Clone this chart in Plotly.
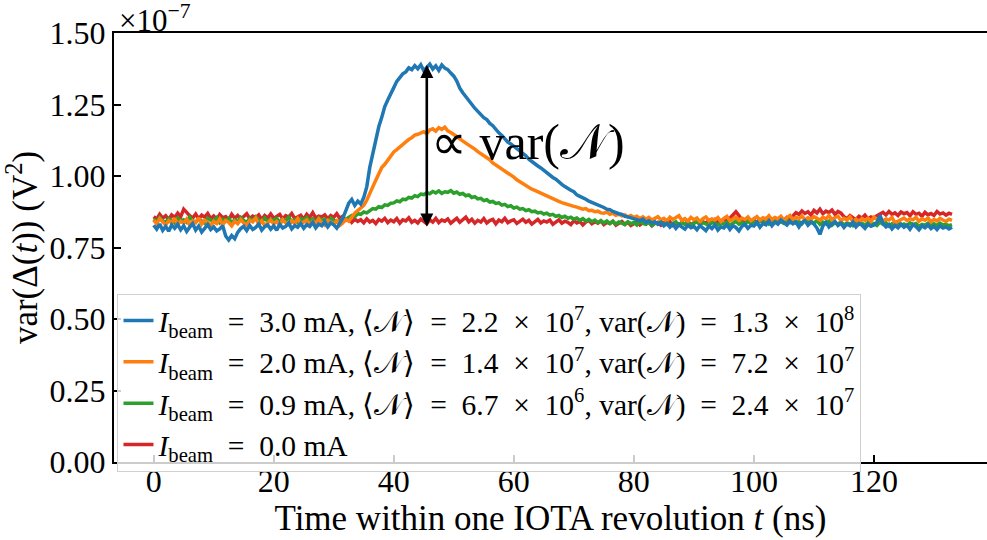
import plotly.graph_objects as go

# time axis (ns), one sample every 0.5 ns from 0 to 133 ns
time_ns = [i / 2 for i in range(267)]

# var(Delta(t)) in units of 1e-7 V^2
blue_3p0mA = [
    0.828, 0.814, 0.832, 0.810, 0.824, 0.807, 0.829, 0.817, 0.831, 0.812,
    0.826, 0.806, 0.821, 0.833, 0.811, 0.825, 0.804, 0.819, 0.830, 0.813,
    0.822, 0.808, 0.815, 0.826, 0.790, 0.776, 0.792, 0.781, 0.803, 0.816,
    0.824, 0.809, 0.827, 0.813, 0.820, 0.832, 0.811, 0.823, 0.829, 0.814,
    0.826, 0.810, 0.831, 0.818, 0.824, 0.836, 0.815, 0.827, 0.821, 0.834,
    0.817, 0.830, 0.824, 0.838, 0.819, 0.832, 0.826, 0.840, 0.822, 0.836,
    0.829, 0.818, 0.834, 0.852, 0.878, 0.905, 0.918, 0.897, 0.912, 0.902,
    0.925, 0.962, 1.030, 1.082, 1.126, 1.172, 1.205, 1.243, 1.266, 1.291,
    1.309, 1.331, 1.346, 1.357, 1.364, 1.378, 1.372, 1.386, 1.375, 1.389,
    1.368, 1.382, 1.391, 1.374, 1.385, 1.369, 1.388, 1.377, 1.372, 1.360,
    1.349, 1.332, 1.307, 1.291, 1.277, 1.262, 1.249, 1.237, 1.226, 1.213,
    1.204, 1.197, 1.184, 1.176, 1.163, 1.151, 1.142, 1.129, 1.118, 1.112,
    1.104, 1.097, 1.087, 1.078, 1.071, 1.059, 1.050, 1.043, 1.035, 1.028,
    1.019, 1.012, 1.004, 0.995, 0.989, 0.978, 0.971, 0.963, 0.955, 0.950,
    0.945, 0.934, 0.929, 0.925, 0.919, 0.912, 0.908, 0.903, 0.900, 0.893,
    0.890, 0.884, 0.882, 0.876, 0.871, 0.868, 0.866, 0.859, 0.857, 0.854,
    0.852, 0.846, 0.844, 0.849, 0.838, 0.843, 0.835, 0.840, 0.831, 0.838,
    0.826, 0.834, 0.821, 0.832, 0.817, 0.829, 0.823, 0.814, 0.828, 0.819,
    0.824, 0.812, 0.827, 0.818, 0.809, 0.825, 0.816, 0.829, 0.811, 0.822,
    0.818, 0.830, 0.813, 0.826, 0.820, 0.808, 0.824, 0.831, 0.817, 0.828,
    0.825, 0.838, 0.821, 0.834, 0.829, 0.843, 0.826, 0.839, 0.832, 0.846,
    0.836, 0.829, 0.842, 0.833, 0.840, 0.822, 0.837, 0.844, 0.828, 0.839,
    0.832, 0.818, 0.796, 0.826, 0.838, 0.822, 0.833, 0.841, 0.827, 0.835,
    0.820, 0.832, 0.826, 0.839, 0.822, 0.834, 0.828, 0.817, 0.831, 0.824,
    0.829, 0.838, 0.862, 0.834, 0.822, 0.830, 0.815, 0.827, 0.819, 0.832,
    0.821, 0.828, 0.814, 0.830, 0.823, 0.812, 0.826, 0.819, 0.829, 0.816,
    0.824, 0.813, 0.826, 0.818, 0.822, 0.815, 0.821,
]
orange_2p0mA = [
    0.846, 0.833, 0.851, 0.838, 0.829, 0.844, 0.836, 0.852, 0.831, 0.842,
    0.835, 0.849, 0.828, 0.843, 0.837, 0.853, 0.832, 0.845, 0.839, 0.827,
    0.841, 0.834, 0.850, 0.830, 0.844, 0.838, 0.826, 0.842, 0.833, 0.848,
    0.836, 0.829, 0.845, 0.840, 0.853, 0.831, 0.843, 0.827, 0.838, 0.846,
    0.833, 0.841, 0.828, 0.847, 0.836, 0.830, 0.844, 0.835, 0.851, 0.832,
    0.839, 0.846, 0.829, 0.842, 0.834, 0.850, 0.837, 0.828, 0.845, 0.838,
    0.832, 0.843, 0.827, 0.836, 0.848, 0.842, 0.858, 0.870, 0.879, 0.888,
    0.897, 0.915, 0.936, 0.962, 0.985, 1.008, 1.030, 1.041, 1.056, 1.072,
    1.084, 1.092, 1.101, 1.112, 1.121, 1.128, 1.134, 1.143, 1.146, 1.151,
    1.155, 1.148, 1.161, 1.165, 1.157, 1.169, 1.163, 1.171, 1.158, 1.152,
    1.146, 1.138, 1.130, 1.124, 1.115, 1.108, 1.099, 1.094, 1.085, 1.078,
    1.071, 1.062, 1.057, 1.046, 1.039, 1.033, 1.025, 1.016, 1.010, 1.002,
    0.996, 0.987, 0.980, 0.975, 0.968, 0.962, 0.954, 0.950, 0.945, 0.939,
    0.934, 0.930, 0.925, 0.918, 0.914, 0.911, 0.907, 0.903, 0.899, 0.897,
    0.894, 0.891, 0.888, 0.884, 0.886, 0.879, 0.880, 0.875, 0.877, 0.871,
    0.870, 0.874, 0.866, 0.870, 0.863, 0.867, 0.861, 0.864, 0.857, 0.862,
    0.855, 0.859, 0.851, 0.857, 0.849, 0.855, 0.846, 0.853, 0.858, 0.847,
    0.852, 0.843, 0.856, 0.848, 0.854, 0.861, 0.845, 0.851, 0.842, 0.855,
    0.847, 0.853, 0.840, 0.851, 0.857, 0.844, 0.850, 0.846, 0.855, 0.841,
    0.852, 0.859, 0.843, 0.850, 0.856, 0.845, 0.853, 0.848, 0.857, 0.844,
    0.851, 0.858, 0.846, 0.854, 0.849, 0.861, 0.847, 0.855, 0.850, 0.859,
    0.845, 0.853, 0.862, 0.848, 0.856, 0.851, 0.860, 0.846, 0.854, 0.849,
    0.858, 0.852, 0.845, 0.856, 0.850, 0.862, 0.847, 0.855, 0.859, 0.844,
    0.852, 0.846, 0.857, 0.840, 0.849, 0.838, 0.851, 0.845, 0.853, 0.842,
    0.856, 0.848, 0.854, 0.843, 0.850, 0.846, 0.855, 0.836, 0.841, 0.849,
    0.853, 0.844, 0.851, 0.847, 0.856, 0.842, 0.850, 0.845, 0.853, 0.840,
    0.848, 0.843, 0.852, 0.846, 0.841, 0.849, 0.845,
]
green_0p9mA = [
    0.849, 0.840, 0.855, 0.843, 0.838, 0.851, 0.845, 0.836, 0.853, 0.842,
    0.847, 0.838, 0.856, 0.844, 0.839, 0.850, 0.843, 0.835, 0.852, 0.846,
    0.841, 0.854, 0.837, 0.848, 0.843, 0.852, 0.836, 0.847, 0.840, 0.855,
    0.844, 0.838, 0.851, 0.842, 0.857, 0.846, 0.839, 0.853, 0.841, 0.849,
    0.845, 0.852, 0.838, 0.849, 0.843, 0.856, 0.840, 0.848, 0.837, 0.851,
    0.846, 0.855, 0.842, 0.850, 0.838, 0.853, 0.844, 0.849, 0.841, 0.852,
    0.846, 0.839, 0.843, 0.851, 0.848, 0.857, 0.862, 0.858, 0.868, 0.866,
    0.874, 0.871, 0.880, 0.886, 0.884, 0.893, 0.890, 0.899, 0.897, 0.905,
    0.906, 0.913, 0.910, 0.919, 0.917, 0.925, 0.923, 0.931, 0.928, 0.937,
    0.935, 0.942, 0.938, 0.946, 0.941, 0.948, 0.939, 0.945, 0.943, 0.949,
    0.940, 0.944, 0.936, 0.939, 0.931, 0.934, 0.925, 0.928, 0.920, 0.922,
    0.914, 0.917, 0.909, 0.911, 0.904, 0.906, 0.898, 0.901, 0.893, 0.896,
    0.888, 0.891, 0.884, 0.886, 0.879, 0.882, 0.875, 0.877, 0.871, 0.873,
    0.867, 0.870, 0.863, 0.866, 0.859, 0.862, 0.855, 0.859, 0.852, 0.856,
    0.849, 0.853, 0.845, 0.851, 0.842, 0.848, 0.840, 0.846, 0.837, 0.844,
    0.836, 0.843, 0.834, 0.841, 0.832, 0.839, 0.835, 0.830, 0.840, 0.833,
    0.838, 0.829, 0.842, 0.834, 0.831, 0.839, 0.827, 0.836, 0.833, 0.841,
    0.830, 0.837, 0.826, 0.835, 0.840, 0.829, 0.836, 0.832, 0.838, 0.828,
    0.835, 0.841, 0.830, 0.837, 0.833, 0.826, 0.839, 0.834, 0.829, 0.836,
    0.831, 0.838, 0.827, 0.835, 0.842, 0.832, 0.837, 0.830, 0.843, 0.834,
    0.839, 0.833, 0.845, 0.836, 0.841, 0.832, 0.838, 0.846, 0.835, 0.840,
    0.834, 0.843, 0.837, 0.848, 0.836, 0.841, 0.833, 0.845, 0.838, 0.842,
    0.835, 0.844, 0.831, 0.839, 0.834, 0.842, 0.828, 0.837, 0.832, 0.840,
    0.829, 0.836, 0.833, 0.826, 0.838, 0.831, 0.835, 0.828, 0.837, 0.830,
    0.834, 0.827, 0.839, 0.831, 0.836, 0.825, 0.833, 0.829, 0.835, 0.827,
    0.832, 0.826, 0.836, 0.830, 0.834, 0.824, 0.831, 0.828, 0.835, 0.826,
    0.833, 0.827, 0.835, 0.829, 0.831, 0.826, 0.830,
]
red_0p0mA = [
    0.858, 0.849, 0.866, 0.853, 0.861, 0.847, 0.864, 0.855, 0.870, 0.857,
    0.884, 0.872, 0.861, 0.853, 0.867, 0.850, 0.863, 0.856, 0.869, 0.851,
    0.860, 0.848, 0.865, 0.854, 0.858, 0.846, 0.866, 0.852, 0.862, 0.849,
    0.857, 0.868, 0.851, 0.860, 0.855, 0.864, 0.848, 0.862, 0.853, 0.867,
    0.852, 0.859, 0.866, 0.850, 0.861, 0.856, 0.869, 0.851, 0.858, 0.863,
    0.849, 0.866, 0.855, 0.872, 0.853, 0.860, 0.857, 0.864, 0.850, 0.862,
    0.855, 0.868, 0.852, 0.859, 0.846, 0.853, 0.838, 0.849, 0.841, 0.847,
    0.836, 0.850, 0.839, 0.845, 0.834, 0.848, 0.842, 0.852, 0.837, 0.846,
    0.840, 0.851, 0.835, 0.847, 0.843, 0.854, 0.838, 0.845, 0.836, 0.849,
    0.841, 0.833, 0.847, 0.839, 0.852, 0.837, 0.846, 0.842, 0.850, 0.835,
    0.844, 0.852, 0.838, 0.847, 0.856, 0.840, 0.849, 0.835, 0.845, 0.839,
    0.851, 0.836, 0.844, 0.848, 0.833, 0.846, 0.840, 0.852, 0.837, 0.843,
    0.847, 0.834, 0.842, 0.849, 0.838, 0.845, 0.832, 0.841, 0.848, 0.836,
    0.843, 0.839, 0.846, 0.831, 0.840, 0.847, 0.835, 0.842, 0.838, 0.830,
    0.844, 0.836, 0.841, 0.829, 0.839, 0.845, 0.833, 0.840, 0.835, 0.843,
    0.830, 0.838, 0.834, 0.842, 0.828, 0.836, 0.841, 0.831, 0.838, 0.827,
    0.835, 0.840, 0.829, 0.837, 0.832, 0.839, 0.826, 0.834, 0.838, 0.828,
    0.836, 0.831, 0.840, 0.827, 0.834, 0.829, 0.838, 0.832, 0.841, 0.830,
    0.837, 0.843, 0.832, 0.840, 0.835, 0.845, 0.838, 0.848, 0.836, 0.844,
    0.849, 0.841, 0.853, 0.866, 0.875, 0.862, 0.846, 0.839, 0.843, 0.837,
    0.845, 0.838, 0.848, 0.842, 0.851, 0.840, 0.847, 0.853, 0.843, 0.850,
    0.846, 0.855, 0.849, 0.861, 0.872, 0.866, 0.878, 0.869, 0.875, 0.864,
    0.880, 0.871, 0.884, 0.868, 0.877, 0.872, 0.881, 0.866, 0.876, 0.870,
    0.858, 0.851, 0.862, 0.854, 0.848, 0.859, 0.852, 0.863, 0.850, 0.857,
    0.853, 0.861, 0.867, 0.873, 0.864, 0.876, 0.866, 0.871, 0.862, 0.874,
    0.868, 0.872, 0.861, 0.875, 0.866, 0.870, 0.859, 0.873, 0.864, 0.869,
    0.862, 0.876, 0.867, 0.871, 0.863, 0.870, 0.866,
]

SP = "\u2002"  # wider spacing around math operators
legend_labels = [
    f"<i>I</i><sub>beam</sub>{SP}={SP}3.0 mA, ⟨𝒩⟩{SP}={SP}2.2{SP}×{SP}10<sup>7</sup>, var(𝒩){SP}={SP}1.3{SP}×{SP}10<sup>8</sup>",
    f"<i>I</i><sub>beam</sub>{SP}={SP}2.0 mA, ⟨𝒩⟩{SP}={SP}1.4{SP}×{SP}10<sup>7</sup>, var(𝒩){SP}={SP}7.2{SP}×{SP}10<sup>7</sup>",
    f"<i>I</i><sub>beam</sub>{SP}={SP}0.9 mA, ⟨𝒩⟩{SP}={SP}6.7{SP}×{SP}10<sup>6</sup>, var(𝒩){SP}={SP}2.4{SP}×{SP}10<sup>7</sup>",
    f"<i>I</i><sub>beam</sub>{SP}={SP}0.0 mA",
]
colors = ["#1f77b4", "#ff7f0e", "#2ca02c", "#d62728"]
series = [blue_3p0mA, orange_2p0mA, green_0p9mA, red_0p0mA]

x_ticks = [0, 20, 40, 60, 80, 100, 120]
y_ticks = [0.00, 0.25, 0.50, 0.75, 1.00, 1.25, 1.50]

arrow_t = 45.5
arrow_top = 1.388
arrow_bottom = 0.818

FONT = "Liberation Serif"
tickfont = dict(family=FONT, size=32, color="black")

fig = go.Figure()
# draw red first so blue ends on top; legend reversed to keep blue first
for vals, col, lab in reversed(list(zip(series, colors, legend_labels))):
    fig.add_trace(go.Scatter(x=time_ns, y=vals, mode="lines", name=lab,
                             line=dict(color=col, width=3.5)))

fig.add_annotation(x=arrow_t, y=arrow_top, ax=arrow_t, ay=arrow_bottom,
                   xref="x", yref="y", axref="x", ayref="y", text="",
                   showarrow=True, arrowhead=2, startarrowhead=2,
                   arrowside="end+start", arrowwidth=2.6, arrowsize=1,
                   startarrowsize=1, arrowcolor="black")
fig.add_annotation(x=45.9, y=1.12, xref="x", yref="y", xanchor="left",
                   yanchor="middle", text="∝ var(𝒩)", showarrow=False,
                   font=dict(family=FONT, size=50, color="black"))
fig.add_annotation(x=0.004, y=1.0, xref="paper", yref="paper", xanchor="left",
                   yanchor="bottom", text="×10<sup>−7</sup>", showarrow=False,
                   font=dict(family=FONT, size=31, color="black"), yshift=-7)

fig.update_layout(
    width=987, height=540,
    margin=dict(l=114, r=0, t=33, b=78, autoexpand=False),
    paper_bgcolor="white", plot_bgcolor="white",
    font=dict(family=FONT, size=32, color="black"),
    showlegend=True,
    legend=dict(x=0.004, y=0.392, xanchor="left", yanchor="top",
                traceorder="reversed", bgcolor="rgba(255,255,255,0.8)",
                bordercolor="#d0d0d0", borderwidth=1,
                font=dict(family=FONT, size=29.5, color="black"),
                tracegroupgap=0, itemwidth=30),
    xaxis=dict(range=[-6.61, 138.83], tickvals=x_ticks, ticks="inside",
               ticklen=7, tickwidth=1.5, tickcolor="black", tickfont=tickfont,
               ticklabelstandoff=-10,
               showline=True, linecolor="black", linewidth=2, mirror=True,
               showgrid=False, zeroline=False, automargin=False,
               title=dict(text="Time within one IOTA revolution <i>t</i> (ns)",
                          standoff=2, font=dict(family=FONT, size=35))),
    yaxis=dict(range=[0, 1.5], tickvals=y_ticks, tickformat=".2f",
               ticks="inside", ticklen=7, tickwidth=1.5, tickcolor="black",
               tickfont=tickfont,
               showline=True, linecolor="black", linewidth=2, mirror=False,
               showgrid=False, zeroline=False, automargin=False,
               title=dict(text="var(Δ(<i>t</i>)) (V<sup>2</sup>)", standoff=4,
                          font=dict(family=FONT, size=35))),
)

fig.write_html("out.html", config={"displayModeBar": False},
               post_script="document.body.style.margin='0px';"
                           "document.body.style.overflow='hidden';")
